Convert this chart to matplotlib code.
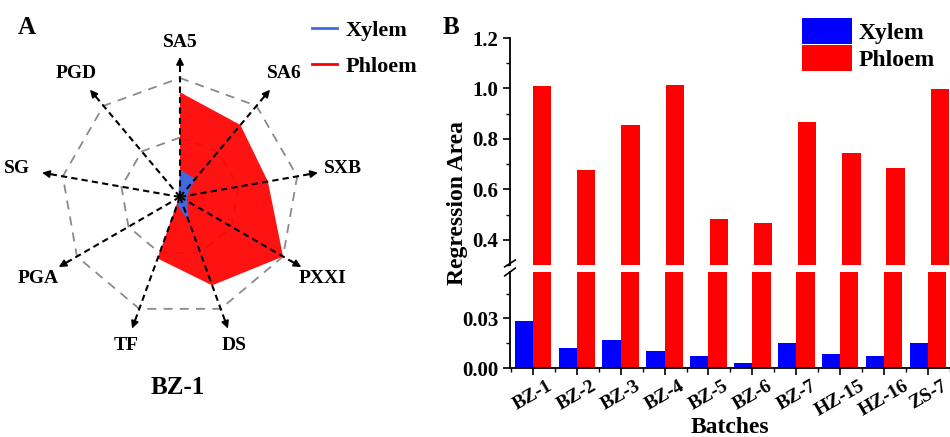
import numpy as np
import matplotlib
matplotlib.use('Agg')
from matplotlib import pyplot as plt
from matplotlib.ticker import MultipleLocator

plt.rcParams['font.family'] = ['Liberation Serif', 'DejaVu Serif']
plt.rcParams['font.weight'] = 'bold'

# radar (panel A)
axes_names = ['SA5', 'SA6', 'SXB', 'PXXI', 'DS', 'TF', 'PGA', 'SG', 'PGD']
phloem_radar = [0.88, 0.79, 0.75, 1.0, 0.79, 0.55, 0.01, 0.0, 0.0]
xylem_radar = [0.23, 0.20, 0.06, 0.07, 0.22, 0.07, 0.02, 0.02, 0.02]

# bars (panel B)
batches = ['BZ-1', 'BZ-2', 'BZ-3', 'BZ-4', 'BZ-5', 'BZ-6', 'BZ-7', 'HZ-15', 'HZ-16', 'ZS-7']
xylem_area = [0.0286, 0.0122, 0.0167, 0.0104, 0.0073, 0.0030, 0.0149, 0.0086, 0.0073, 0.0149]
phloem_area = [1.009, 0.675, 0.857, 1.013, 0.483, 0.465, 0.867, 0.745, 0.684, 0.997]

W, H = 950, 437
fig = plt.figure(figsize=(W / 100, H / 100), dpi=100)

# ---- panel A ----
R = 119.0
cx, cy = 180, 197
axr = fig.add_axes([(cx - 1.5 * R) / W, (H - cy - 1.65 * R) / H, 3 * R / W, 3.1 * R / H])
axr.set_xlim(-1.5, 1.5)
axr.set_ylim(-1.65, 1.45)
axr.axis('off')

n = len(axes_names)
ang = np.deg2rad(90 - 40 * np.arange(n))
ca, sa = np.cos(ang), np.sin(ang)

for r in [0.5, 1.0]:
    axr.plot(np.append(r * ca, r * ca[0]), np.append(r * sa, r * sa[0]),
             color='#8a8a8a', ls=(0, (5, 4)), lw=1.3, zorder=1)

ph = np.array(phloem_radar)
xy = np.array(xylem_radar)
axr.fill(ph * ca, ph * sa, color='#ff0000', alpha=0.93, lw=0, zorder=2)
axr.fill(xy * ca, xy * sa, color='#4169e1', lw=0, zorder=3)
axr.plot([], [], color='#4169e1', lw=2, label='Xylem')
axr.plot([], [], color='#ff0000', lw=2, label='Phloem')

tip = 1.2
for i, name in enumerate(axes_names):
    axr.plot([0, tip * 0.95 * ca[i]], [0, tip * 0.95 * sa[i]], color='black',
             ls=(0, (3, 2)), lw=1.5, zorder=4)
    axr.annotate('', xy=(tip * ca[i], tip * sa[i]), xytext=(0.9 * tip * ca[i], 0.9 * tip * sa[i]),
                 arrowprops=dict(arrowstyle='-|>', color='black', lw=1.2, mutation_scale=11),
                 zorder=5)
    rl = 1.3 + 0.09 * abs(ca[i])
    axr.text(rl * ca[i], rl * sa[i], name, ha='center', va='center', fontsize=14, fontweight='bold')

axr.legend(loc='upper left', bbox_to_anchor=((308 - (cx - 1.5 * R)) / (3 * R), 1 - (16 - (cy - 1.45 * R)) / (3.1 * R)),
           frameon=False, fontsize=16, handlelength=1.1, handletextpad=0.4, labelspacing=0.7,
           borderaxespad=0, borderpad=0.2)

fig.text(27 / W, 1 - 27 / H, 'A', fontsize=18, fontweight='bold', ha='center', va='center')
fig.text(178 / W, 1 - 387 / H, 'BZ-1', fontsize=18, fontweight='bold', ha='center', va='center')

# ---- panel B ----
left = 510 / W
width = 1 - left
ax_top = fig.add_axes([left, (H - 265) / H, width, (265 - 38) / H])
ax_bot = fig.add_axes([left, (H - 368) / H, width, (368 - 272) / H])

x = np.arange(len(batches))
bw = 0.415
for ax in (ax_top, ax_bot):
    ax.bar(x - bw / 2, xylem_area, bw, color='#0000ff', label='Xylem')
    ax.bar(x + bw / 2, phloem_area, bw, color='#ff0000', label='Phloem')
    ax.set_xlim(-0.52, 9.44)
    ax.spines['top'].set_visible(False)
    ax.spines['right'].set_visible(False)
    ax.spines['left'].set_linewidth(1.3)
    ax.spines['bottom'].set_linewidth(1.3)
    ax.tick_params(axis='y', which='major', direction='out', length=5, width=1.2, labelsize=15)
    ax.tick_params(axis='y', which='minor', direction='out', length=3, width=1.0)
    for t in ax.get_yticklabels():
        t.set_fontweight('bold')

ax_top.set_ylim(0.3, 1.2)
ax_top.yaxis.set_minor_locator(MultipleLocator(0.1))
ax_top.set_yticks([0.4, 0.6, 0.8, 1.0, 1.2])
ax_top.spines['bottom'].set_visible(False)
ax_top.tick_params(axis='x', which='both', bottom=False, labelbottom=False)

ax_bot.set_ylim(0, 0.058)
ax_bot.set_yticks([0.0, 0.03])
ax_bot.set_yticklabels(['0.00', '0.03'])
ax_bot.yaxis.set_minor_locator(MultipleLocator(0.015))
ax_bot.set_xticks(x)
ax_bot.set_xticks(np.arange(-0.5, 9.6, 1.0), minor=True)
ax_bot.set_xticklabels(batches, rotation=30, ha='center', fontsize=14, fontweight='bold')
ax_bot.tick_params(axis='x', which='major', direction='out', length=5, width=1.2, pad=2)
ax_bot.tick_params(axis='x', which='minor', direction='out', length=3, width=1.0)
ax_bot.set_xlabel('Batches', fontsize=17, fontweight='bold', labelpad=-2)

# break marks
kw = dict(color='black', lw=1.2, clip_on=False)
ax_top.plot([-0.012, 0.012], [-0.008, 0.022], transform=ax_top.transAxes, **kw)
ax_bot.plot([-0.012, 0.012], [0.96, 1.04], transform=ax_bot.transAxes, **kw)

fig.text(458 / W, (H - 38 - (368 - 38) / 2) / H, 'Regression Area', rotation=90, fontsize=17,
         fontweight='bold', ha='center', va='center')

ax_top.legend(loc='upper left', bbox_to_anchor=((802 - 510) / (W - 510), 1 + 20 / 227),
              frameon=False, fontsize=17, handlelength=2.1, handleheight=1.3,
              handletextpad=0.3, labelspacing=0.05, borderaxespad=0, borderpad=0)

fig.text(451 / W, 1 - 27 / H, 'B', fontsize=18, fontweight='bold', ha='center', va='center')

fig.savefig('out.png', dpi=100)
